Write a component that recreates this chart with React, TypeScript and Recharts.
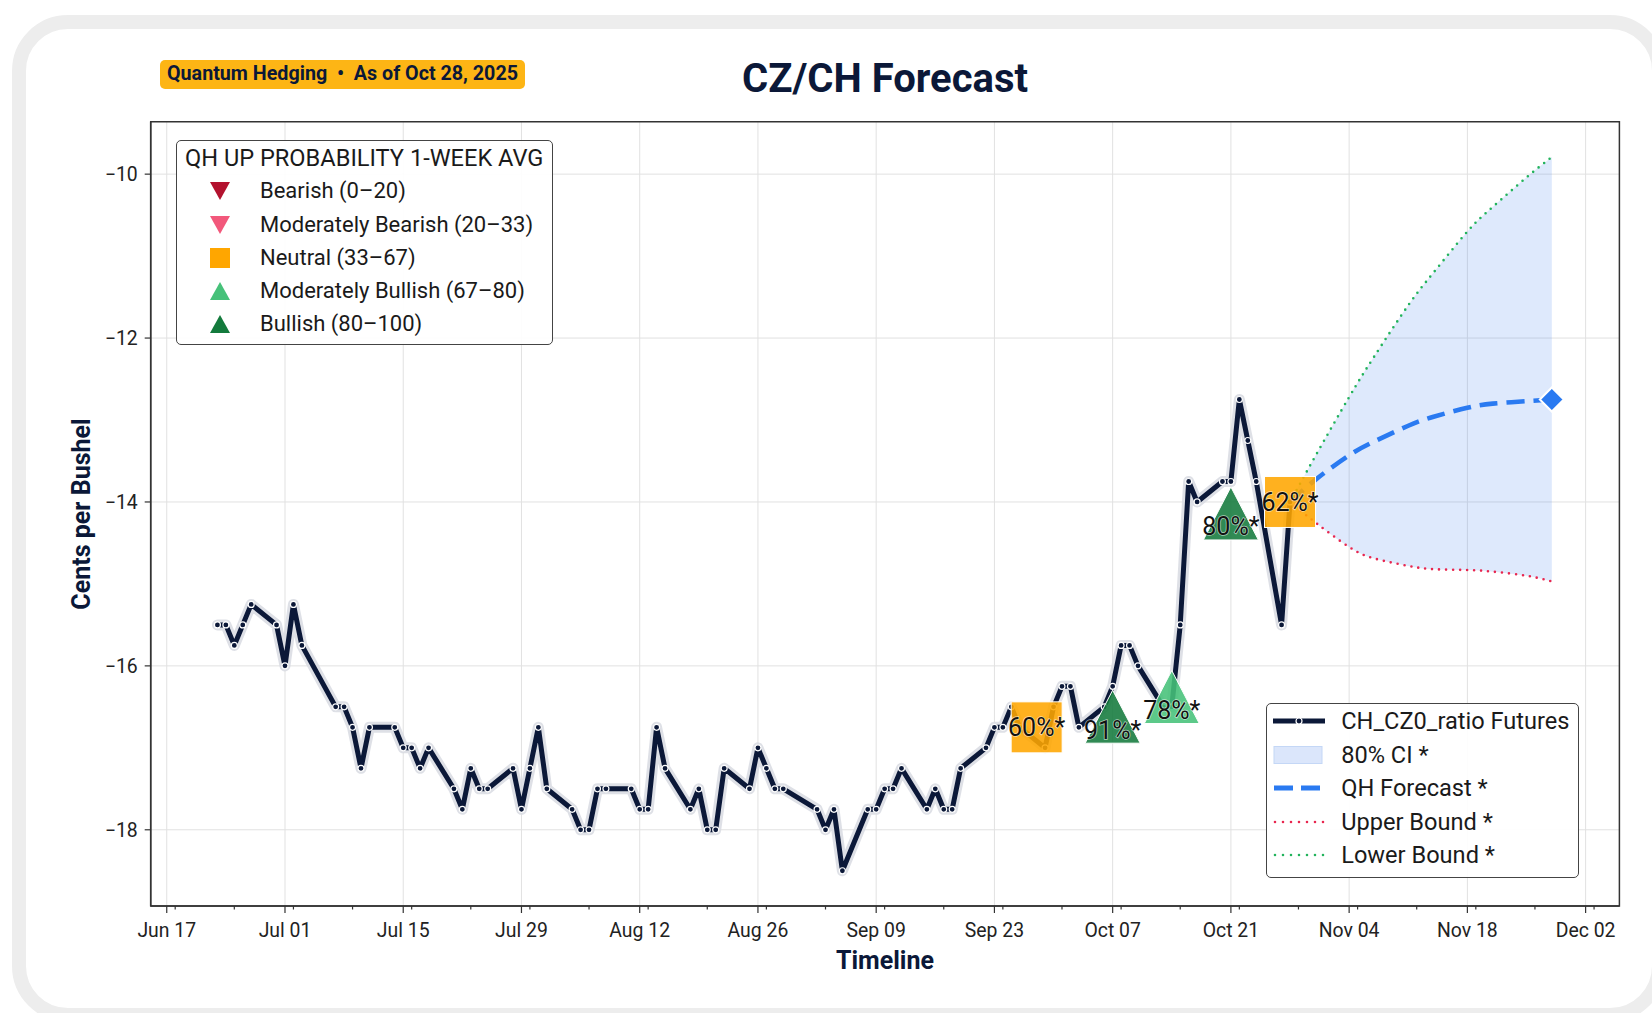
import React from 'react'
import { ComposedChart, Line, Area, Scatter, XAxis, YAxis, CartesianGrid, ReferenceArea } from 'recharts'

// ---- data ----
const actualDates = [
  '2025-06-23', '2025-06-24', '2025-06-25', '2025-06-26', '2025-06-27', '2025-06-30',
  '2025-07-01', '2025-07-02', '2025-07-03', '2025-07-07', '2025-07-08', '2025-07-09',
  '2025-07-10', '2025-07-11', '2025-07-14', '2025-07-15', '2025-07-16', '2025-07-17',
  '2025-07-18', '2025-07-21', '2025-07-22', '2025-07-23', '2025-07-24', '2025-07-25',
  '2025-07-28', '2025-07-29', '2025-07-30', '2025-07-31', '2025-08-01', '2025-08-04',
  '2025-08-05', '2025-08-06', '2025-08-07', '2025-08-08', '2025-08-11', '2025-08-12',
  '2025-08-13', '2025-08-14', '2025-08-15', '2025-08-18', '2025-08-19', '2025-08-20',
  '2025-08-21', '2025-08-22', '2025-08-25', '2025-08-26', '2025-08-27', '2025-08-28',
  '2025-08-29', '2025-09-02', '2025-09-03', '2025-09-04', '2025-09-05', '2025-09-08',
  '2025-09-09', '2025-09-10', '2025-09-11', '2025-09-12', '2025-09-15', '2025-09-16',
  '2025-09-17', '2025-09-18', '2025-09-19', '2025-09-22', '2025-09-23', '2025-09-24',
  '2025-09-25', '2025-09-26', '2025-09-29', '2025-09-30', '2025-10-01', '2025-10-02',
  '2025-10-03', '2025-10-06', '2025-10-07', '2025-10-08', '2025-10-09', '2025-10-10',
  '2025-10-13', '2025-10-14', '2025-10-15', '2025-10-16', '2025-10-17', '2025-10-20',
  '2025-10-21', '2025-10-22', '2025-10-23', '2025-10-24', '2025-10-27', '2025-10-28',
]
const actualValues = [
  -15.5, -15.5, -15.75, -15.5, -15.25, -15.5,
  -16.0, -15.25, -15.75, -16.5, -16.5, -16.75,
  -17.25, -16.75, -16.75, -17.0, -17.0, -17.25,
  -17.0, -17.5, -17.75, -17.25, -17.5, -17.5,
  -17.25, -17.75, -17.25, -16.75, -17.5, -17.75,
  -18.0, -18.0, -17.5, -17.5, -17.5, -17.75,
  -17.75, -16.75, -17.25, -17.75, -17.5, -18.0,
  -18.0, -17.25, -17.5, -17.0, -17.25, -17.5,
  -17.5, -17.75, -18.0, -17.75, -18.5, -17.75,
  -17.75, -17.5, -17.5, -17.25, -17.75, -17.5,
  -17.75, -17.75, -17.25, -17.0, -16.75, -16.75,
  -16.5, -16.75, -17.0, -16.5, -16.25, -16.25,
  -16.75, -16.5, -16.25, -15.75, -15.75, -16.0,
  -16.5, -16.5, -15.5, -13.75, -14.0, -13.75,
  -13.75, -12.75, -13.25, -13.75, -15.5, -14.0,
]

// weekly up-probability markers
const markerDates = ['2025-09-28', '2025-10-07', '2025-10-14', '2025-10-21', '2025-10-28']
const markerValues = [-16.75, -16.62, -16.38, -14.14, -14.0]
const markerLabels = ['60%*', '91%*', '78%*', '80%*', '62%*']
const markerKinds = ['neutral', 'bullish', 'modBullish', 'bullish', 'neutral']

// forecast
const fcDates = ['2025-10-28', '2025-10-31', '2025-11-04', '2025-11-07', '2025-11-11', '2025-11-14', '2025-11-18', '2025-11-21', '2025-11-25', '2025-11-28']
const fcMid = [-14.0, -13.73, -13.43, -13.26, -13.07, -12.96, -12.85, -12.8, -12.77, -12.75]
const fcUpperBound = [-14.0, -14.25, -14.55, -14.69, -14.78, -14.82, -14.83, -14.85, -14.9, -14.97]
const fcLowerBound = [-14.0, -13.44, -12.72, -12.22, -11.6, -11.2, -10.7, -10.4, -10.04, -9.79]

// axes
const majorTickDates = ['2025-06-17', '2025-07-01', '2025-07-15', '2025-07-29', '2025-08-12', '2025-08-26', '2025-09-09', '2025-09-23', '2025-10-07', '2025-10-21', '2025-11-04', '2025-11-18', '2025-12-02']
const minorTickDates = [
  '2025-06-18', '2025-06-25', '2025-07-02', '2025-07-09', '2025-07-16', '2025-07-23', '2025-07-30',
  '2025-08-06', '2025-08-13', '2025-08-20', '2025-08-27', '2025-09-03', '2025-09-10', '2025-09-17',
  '2025-09-24', '2025-10-01', '2025-10-08', '2025-10-15', '2025-10-22', '2025-10-29', '2025-11-05',
  '2025-11-12', '2025-11-19', '2025-11-26', '2025-12-03',
]
const yTicks = [-18, -16, -14, -12, -10]
const MONTHS = ['Jan', 'Feb', 'Mar', 'Apr', 'May', 'Jun', 'Jul', 'Aug', 'Sep', 'Oct', 'Nov', 'Dec']

const toT = (s: string) => Date.UTC(+s.slice(0, 4), +s.slice(5, 7) - 1, +s.slice(8, 10)) / 86400000
const fmtT = (t: number) => {
  const d = new Date(t * 86400000)
  return `${MONTHS[d.getUTCMonth()]} ${String(d.getUTCDate()).padStart(2, '0')}`
}

const actual = actualDates.map((d, i) => ({ t: toT(d), v: actualValues[i] }))
const markers = markerDates.map((d, i) => ({ t: toT(d), v: markerValues[i], label: markerLabels[i], kind: markerKinds[i] }))
const forecast = fcDates.map((d, i) => ({
  t: toT(d), mid: fcMid[i], up: fcUpperBound[i], lo: fcLowerBound[i], ci: [fcUpperBound[i], fcLowerBound[i]],
}))
const lastFc = [{ t: toT(fcDates[fcDates.length - 1]), v: fcMid[fcMid.length - 1] }]

const majorT = majorTickDates.map(toT)
const majorSet = new Set(majorT)
const allTicks = [...majorT, ...minorTickDates.map(toT)].sort((a, b) => a - b)
const xDomain = [toT('2025-06-17') - 1.9, toT('2025-06-17') + 172]
const yDomain = [-18.93, -9.36]

const NAVY = '#0b1838'
const KIND_COLORS: Record<string, string> = {
  bearish: '#b3122e', modBearish: '#f2587b', neutral: '#ffa600', modBullish: '#46c179', bullish: '#137a3c',
}
const BLUE = '#2a7af1'
const RED = '#e8264f'
const GREEN = '#22b35c'

function XTick(props: any) {
  const { x, y, payload } = props
  const major = majorSet.has(payload.value)
  return (
    <g>
      <line x1={x} x2={x} y1={y} y2={y + (major ? 7 : 3.5)} stroke="#333" strokeWidth={1.2} />
      {major && (
        <text x={x} y={y + 17} dy="0.71em" textAnchor="middle" fill="#222" fontSize={19.4}>{fmtT(payload.value)}</text>
      )}
    </g>
  )
}

function MarkerShape(props: any) {
  const { cx, cy, payload } = props
  const c = KIND_COLORS[payload.kind]
  const isSquare = payload.kind === 'neutral'
  const shape = isSquare
    ? <rect x={cx - 25.5} y={cy - 25.5} width={51} height={51} fill={c} fillOpacity={0.88} stroke="#fff" strokeWidth={1} />
    : <polygon points={`${cx},${cy - 26.5} ${cx - 27.5},${cy + 26.5} ${cx + 27.5},${cy + 26.5}`} fill={c} fillOpacity={0.88} stroke="#fff" strokeWidth={1} />
  return (
    <g>
      {shape}
      <text x={cx} y={isSquare ? cy : cy + 13} dy="0.355em" textAnchor="middle" fontSize={25} fill="#111"
        stroke="#fff" strokeWidth={1.5} strokeOpacity={0.6} paintOrder="stroke">{payload.label}</text>
    </g>
  )
}

function Diamond(props: any) {
  const { cx, cy } = props
  return <polygon points={`${cx},${cy - 12} ${cx + 12},${cy} ${cx},${cy + 12} ${cx - 12},${cy}`} fill={BLUE} stroke="#fff" strokeWidth={2} />
}

function Mark({ kind }: { kind: string }) {
  const c = KIND_COLORS[kind]
  if (kind === 'neutral') return <svg width={22} height={22}><rect x={1} y={1} width={20} height={20} fill={c} /></svg>
  const down = kind === 'bearish' || kind === 'modBearish'
  return (
    <svg width={22} height={22}>
      <polygon points={down ? '1,2 21,2 11,20' : '11,2 1,20 21,20'} fill={c} />
    </svg>
  )
}

const probLegend = [
  { kind: 'bearish', text: 'Bearish (0–20)' },
  { kind: 'modBearish', text: 'Moderately Bearish (20–33)' },
  { kind: 'neutral', text: 'Neutral (33–67)' },
  { kind: 'modBullish', text: 'Moderately Bullish (67–80)' },
  { kind: 'bullish', text: 'Bullish (80–100)' },
]

function SeriesHandle({ i }: { i: number }) {
  return (
    <svg width={56} height={22}>
      {i === 0 && <>
        <line x1={2} x2={54} y1={11} y2={11} stroke={NAVY} strokeWidth={5} />
        <circle cx={28} cy={11} r={3} fill={NAVY} stroke="#fff" strokeWidth={1.2} />
      </>}
      {i === 1 && <rect x={3} y={2.5} width={48} height={17} fill="#dbe6fb" stroke="#c4d7f6" strokeWidth={1} />}
      {i === 2 && <line x1={3} x2={54} y1={11} y2={11} stroke={BLUE} strokeWidth={5} strokeDasharray="19 8" />}
      {i === 3 && <line x1={4} x2={54} y1={11} y2={11} stroke={RED} strokeWidth={2.6} strokeDasharray="0 8" strokeLinecap="round" />}
      {i === 4 && <line x1={4} x2={54} y1={11} y2={11} stroke={GREEN} strokeWidth={2.6} strokeDasharray="0 8" strokeLinecap="round" />}
    </svg>
  )
}
const seriesLegend = ['CH_CZ0_ratio Futures', '80% CI *', 'QH Forecast *', 'Upper Bound *', 'Lower Bound *']

export default function App() {
  return (
    <div style={{ position: 'fixed', left: 0, top: 0, width: 1652, height: 1013, overflow: 'hidden', background: '#fff', fontFamily: 'Roboto, "Noto Sans", sans-serif' }}>
      <div style={{ position: 'absolute', left: 12, top: 15, width: 1654, height: 1007, boxSizing: 'border-box', border: '14px solid #ededed', borderRadius: 56 }} />

      <div style={{ position: 'absolute', left: 0, top: 0 }}>
        <ComposedChart width={1652} height={1013} margin={{ top: 121.7, right: 32.6, bottom: 47, left: 0 }}>
          <CartesianGrid stroke="#e1e1e1" strokeWidth={1} verticalValues={majorT} horizontalValues={yTicks} />
          <XAxis type="number" dataKey="t" domain={xDomain} allowDataOverflow ticks={allTicks} interval={0}
            tick={<XTick />} tickLine={false} tickSize={0} tickMargin={0} height={60}
            axisLine={{ stroke: '#333', strokeWidth: 1.5 }} />
          <YAxis type="number" domain={yDomain} allowDataOverflow ticks={yTicks} interval={0} width={150.7}
            tickSize={6} tickMargin={7} tickLine={{ stroke: '#333', strokeWidth: 1.2 }}
            axisLine={{ stroke: '#333', strokeWidth: 1.5 }}
            tick={{ fill: '#222', fontSize: 19.4 }} tickFormatter={(v: number) => `−${Math.abs(v)}`} />
          <ReferenceArea x1={xDomain[0]} x2={xDomain[1]} y1={yDomain[0]} y2={yDomain[1]} fill="none" stroke="#333" strokeWidth={1.5} />

          <Area data={forecast} dataKey="ci" type="natural" fill="#3a7fee" fillOpacity={0.17} stroke="none" isAnimationActive={false} />
          <Line data={actual} dataKey="v" type="linear" stroke="#d8dae2" strokeOpacity={0.85} strokeWidth={11}
            strokeLinejoin="round" strokeLinecap="round" dot={false} activeDot={false} isAnimationActive={false} />
          <Line data={actual} dataKey="v" type="linear" stroke={NAVY} strokeWidth={5} strokeLinejoin="round"
            dot={{ r: 3, fill: NAVY, stroke: '#fff', strokeWidth: 1.2 }} activeDot={false} isAnimationActive={false} />
          <Line data={forecast} dataKey="mid" type="natural" stroke={BLUE} strokeWidth={4.6} strokeDasharray="18 9"
            dot={false} activeDot={false} isAnimationActive={false} />
          <Line data={forecast} dataKey="up" type="natural" stroke={RED} strokeWidth={2.6} strokeDasharray="0 7"
            strokeLinecap="round" dot={false} activeDot={false} isAnimationActive={false} />
          <Line data={forecast} dataKey="lo" type="natural" stroke={GREEN} strokeWidth={2.6} strokeDasharray="0 7"
            strokeLinecap="round" dot={false} activeDot={false} isAnimationActive={false} />
          <Scatter data={markers} dataKey="v" shape={<MarkerShape />} isAnimationActive={false} />
          <Scatter data={lastFc} dataKey="v" shape={<Diamond />} isAnimationActive={false} />
        </ComposedChart>
      </div>

      {/* header */}
      <div style={{ position: 'absolute', left: 160, top: 60, width: 365, height: 28.5, borderRadius: 5, background: '#fdb515', color: NAVY, fontWeight: 700, fontSize: 19.7, lineHeight: '28.5px', textAlign: 'center', whiteSpace: 'nowrap' }}>
        Quantum Hedging&nbsp; •&nbsp; As of Oct 28, 2025
      </div>
      <div style={{ position: 'absolute', left: 485, top: 54, width: 800, height: 50, lineHeight: '50px', textAlign: 'center', fontSize: 40, fontWeight: 700, color: NAVY }}>
        CZ/CH Forecast
      </div>
      <div style={{ position: 'absolute', left: 685, top: 946, width: 400, height: 30, lineHeight: '30px', textAlign: 'center', fontSize: 25, fontWeight: 700, color: NAVY }}>
        Timeline
      </div>
      <div style={{ position: 'absolute', left: 82.2 - 200, top: 513.5 - 15, width: 400, height: 30, lineHeight: '30px', textAlign: 'center', fontSize: 25, fontWeight: 700, color: NAVY, transform: 'rotate(-90deg)' }}>
        Cents per Bushel
      </div>

      {/* probability legend */}
      <div style={{ position: 'absolute', left: 176, top: 140, width: 376.5, height: 205, boxSizing: 'border-box', border: '1.5px solid #444', borderRadius: 5, background: 'rgba(255,255,255,0.92)', color: '#1a1a1a', fontSize: 22 }}>
        <div style={{ position: 'absolute', left: 8, top: 18.3 - 16.5, height: 30, lineHeight: '30px', whiteSpace: 'nowrap', fontSize: 23.6 }}>QH UP PROBABILITY 1-WEEK AVG</div>
        {probLegend.map((e, i) => {
          const cy = 51.7 + i * 33.3
          return (
            <React.Fragment key={e.kind}>
              <div style={{ position: 'absolute', left: 44 - 11 - 1.5, top: cy - 11 - 1.5, width: 22, height: 22 }}><Mark kind={e.kind} /></div>
              <div style={{ position: 'absolute', left: 83, top: cy - 15 - 1.5, height: 30, lineHeight: '30px', whiteSpace: 'nowrap' }}>{e.text}</div>
            </React.Fragment>
          )
        })}
      </div>

      {/* series legend */}
      <div style={{ position: 'absolute', left: 1265.7, top: 702.7, width: 313.3, height: 175.6, boxSizing: 'border-box', border: '1.5px solid #444', borderRadius: 5, background: 'rgba(255,255,255,0.92)', color: '#1a1a1a', fontSize: 23.6 }}>
        {seriesLegend.map((s, i) => {
          const cy = 19 + i * 33.5
          return (
            <React.Fragment key={s}>
              <div style={{ position: 'absolute', left: 4, top: cy - 11 - 1.5, width: 56, height: 22 }}><SeriesHandle i={i} /></div>
              <div style={{ position: 'absolute', left: 74.5, top: cy - 15 - 1.5, height: 30, lineHeight: '30px', whiteSpace: 'nowrap' }}>{s}</div>
            </React.Fragment>
          )
        })}
      </div>
    </div>
  )
}
